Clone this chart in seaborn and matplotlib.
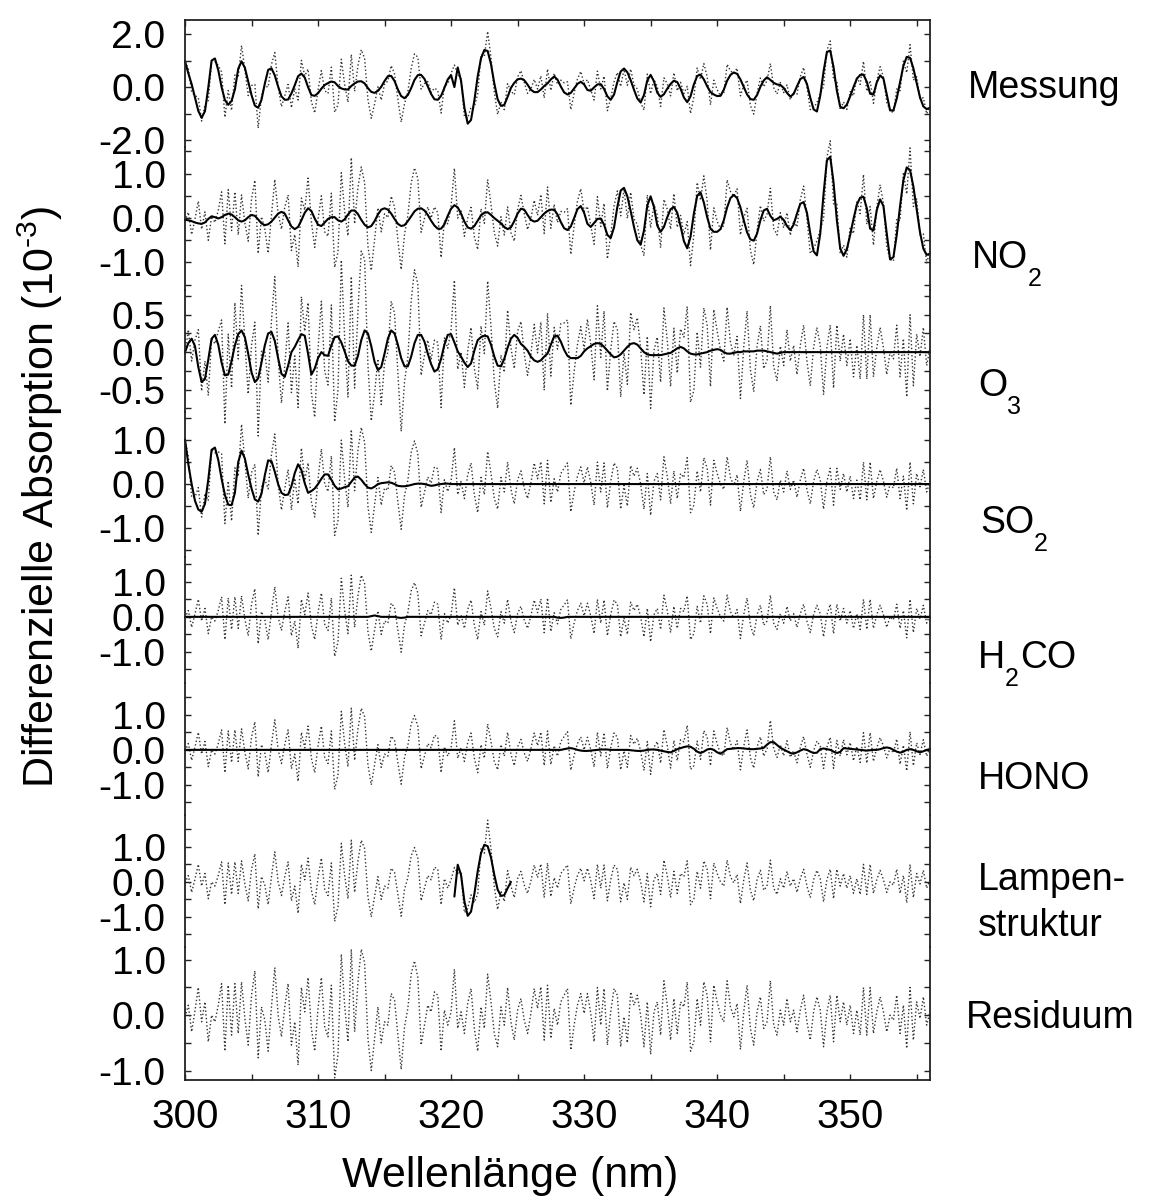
import numpy as np
import matplotlib
matplotlib.use("Agg")
import matplotlib.pyplot as plt
import seaborn as sns
from matplotlib.ticker import MultipleLocator, FixedLocator

# ---------------- data (units of 1e-3, wavelength grid 0.25 nm) ----------------
wavelength = np.linspace(300.0, 356.0, 225)

no2 = [
    -0.04, -0.05, -0.07, -0.10, -0.12, -0.13, -0.10, -0.02, 0.04, 0.02, -0.01, 0.02, 0.07, 0.10, 0.08, 0.02, -0.05, -0.08, -0.05, 0.02,
    0.07, 0.05, -0.03, -0.12, -0.16, -0.14, -0.08, 0.01, 0.10, 0.14, 0.10, -0.05, -0.19, -0.25, -0.20, -0.05, 0.12, 0.22, 0.16, -0.01,
    -0.15, -0.18, -0.10, -0.02, 0.02, 0.02, -0.05, -0.08, -0.03, 0.08, 0.17, 0.17, 0.09, -0.04, -0.15, -0.21, -0.18, -0.07, 0.08, 0.19,
    0.22, 0.19, 0.10, -0.02, -0.13, -0.18, -0.16, -0.07, 0.04, 0.15, 0.21, 0.22, 0.17, 0.07, -0.06, -0.17, -0.24, -0.24, -0.14, 0.05,
    0.21, 0.29, 0.24, 0.10, -0.08, -0.21, -0.24, -0.18, -0.06, 0.06, 0.12, 0.13, 0.07, 0.00, -0.06, -0.12, -0.20, -0.25, -0.21, -0.07,
    0.10, 0.21, 0.19, 0.07, -0.04, -0.08, -0.06, 0.02, 0.10, 0.16, 0.19, 0.19, 0.08, -0.09, -0.23, -0.27, -0.19, 0.00, 0.20, 0.27,
    0.12, -0.13, -0.20, -0.11, -0.02, -0.01, -0.15, -0.38, -0.45, -0.21, 0.25, 0.62, 0.68, 0.49, 0.16, -0.20, -0.50, -0.60, -0.28, 0.28,
    0.49, 0.25, -0.17, -0.31, -0.20, 0.02, 0.20, 0.25, 0.12, -0.18, -0.52, -0.68, -0.42, 0.10, 0.50, 0.58, 0.35, 0.02, -0.24, -0.31,
    -0.31, -0.25, -0.05, 0.24, 0.45, 0.52, 0.45, 0.24, -0.05, -0.32, -0.48, -0.51, -0.35, -0.05, 0.17, 0.21, 0.05, -0.05, -0.02, 0.03,
    -0.04, -0.18, -0.27, -0.15, 0.10, 0.32, 0.36, 0.12, -0.35, -0.75, -0.84, -0.35, 0.55, 1.30, 1.38, 0.80, -0.05, -0.68, -0.85, -0.70,
    -0.38, -0.02, 0.30, 0.46, 0.48, 0.22, -0.24, -0.28, 0.18, 0.42, 0.27, -0.35, -0.93, -0.88, -0.38, 0.27, 0.85, 1.14, 1.08, 0.71,
    0.19, -0.32, -0.69, -0.83, -0.80,
]

o3 = [
    0.00, 0.12, 0.18, 0.08, -0.20, -0.40, -0.36, -0.10, 0.18, 0.23, 0.10, -0.14, -0.31, -0.30, -0.12, 0.09, 0.24, 0.29, 0.20, -0.02,
    -0.27, -0.40, -0.35, -0.14, 0.09, 0.25, 0.27, 0.15, -0.08, -0.29, -0.33, -0.18, 0.00, 0.07, 0.16, 0.24, 0.22, -0.02, -0.30, -0.22,
    -0.08, 0.00, -0.04, -0.05, 0.09, 0.20, 0.21, 0.13, 0.01, -0.12, -0.18, -0.18, -0.05, 0.16, 0.29, 0.25, 0.08, -0.13, -0.24, -0.20,
    -0.02, 0.18, 0.29, 0.25, 0.10, -0.08, -0.19, -0.19, -0.06, 0.12, 0.23, 0.23, 0.14, -0.02, -0.16, -0.26, -0.23, -0.09, 0.10, 0.23,
    0.24, 0.13, 0.01, -0.06, -0.14, -0.20, -0.15, 0.02, 0.16, 0.20, 0.22, 0.21, 0.10, -0.06, -0.18, -0.19, -0.09, 0.06, 0.18, 0.23,
    0.19, 0.11, 0.07, 0.02, -0.06, -0.11, -0.13, -0.11, -0.06, -0.02, 0.10, 0.21, 0.22, 0.14, 0.03, -0.05, -0.08, -0.08, -0.08, -0.05,
    0.01, 0.05, 0.08, 0.11, 0.12, 0.11, 0.07, 0.02, -0.03, -0.07, -0.06, -0.03, 0.02, 0.07, 0.11, 0.12, 0.10, 0.05, 0.00, -0.03,
    -0.04, -0.04, -0.04, -0.04, -0.03, -0.02, -0.01, 0.02, 0.05, 0.07, 0.05, 0.01, -0.02, -0.03, -0.03, -0.02, -0.01, 0.00, 0.02, 0.03,
    0.04, 0.03, 0.00, -0.02, -0.02, -0.01, 0.00, 0.00, 0.01, 0.01, 0.01, 0.01, 0.02, 0.02, 0.02, 0.01, 0.00, -0.01, -0.02, -0.01,
] + [0.0] * 45

so2 = [
    1.02, 0.45, 0.00, -0.38, -0.58, -0.63, -0.45, 0.10, 0.78, 0.83, 0.55, 0.12, -0.25, -0.47, -0.48, -0.20, 0.50, 0.76, 0.58, 0.22,
    -0.10, -0.35, -0.40, -0.22, 0.20, 0.54, 0.52, 0.28, 0.00, -0.20, -0.25, -0.24, -0.05, 0.25, 0.45, 0.32, 0.02, -0.20, -0.16, -0.10,
    0.00, 0.12, 0.22, 0.22, 0.10, -0.04, -0.12, -0.10, -0.07, -0.05, 0.05, 0.15, 0.17, 0.10, 0.00, -0.08, -0.10, -0.06, 0.00, 0.02,
    0.03, 0.04, 0.03, 0.00, -0.04, -0.05, -0.05, -0.04, -0.02, 0.00, 0.01, 0.01, 0.00, -0.02, -0.04, -0.03, -0.01, 0.00, 0.01, 0.01,
] + [0.0] * 145

h2co = ([0.0] * 56 + [0.02, 0.04, 0.02] + [0.0] * 5 + [-0.02, -0.03, -0.02]
        + [0.0] * 45 + [-0.02, -0.03, -0.02] + [0.0] * 110)

hono = [0.0] * 114 + [
    0.02, 0.04, 0.05, 0.03, 0.00, -0.02, -0.03, -0.03, -0.02, -0.01, 0.00, 0.01, 0.01, 0.01, 0.00, 0.00, 0.00, 0.00, 0.00, 0.00,
    -0.01, -0.02, -0.03, -0.03, -0.02, 0.00, 0.01, 0.01, 0.00, -0.02, -0.04, -0.06, -0.07, -0.03, 0.02, 0.05, 0.08, 0.10, 0.09, 0.03,
    -0.05, -0.09, -0.05, 0.01, 0.03, 0.00, -0.07, -0.11, -0.05, 0.02, 0.03, 0.04, 0.05, 0.05, 0.04, 0.03, 0.02, 0.02, 0.03, 0.04,
    0.06, 0.15, 0.22, 0.22, 0.14, 0.06, 0.01, -0.04, -0.09, -0.11, -0.07, -0.02, 0.02, 0.00, -0.05, -0.09, -0.08, 0.02, 0.04, 0.02,
    0.00, -0.05, -0.09, -0.06, 0.05, 0.04, 0.03, 0.02, 0.01, 0.00, -0.01, -0.02, -0.01, 0.00, 0.00, 0.02, 0.05, 0.07, 0.05, 0.00,
    -0.05, -0.08, -0.05, 0.00, 0.02, 0.00, -0.04, -0.07, -0.04, 0.00, 0.02,
]

# lamp structure, only fitted between 320.25 and 324.5 nm (grid index 81..98)
lamp_start = 81
lampen = [-0.42, 0.49, 0.20, -0.55, -0.97, -0.85, -0.35, 0.30, 0.82, 1.06,
          1.02, 0.70, 0.20, -0.22, -0.40, -0.38, -0.18, 0.00]

residuum = [
    -0.03, 0.18, -0.30, 0.08, 0.50, -0.12, 0.24, -0.48, 0.00, -0.12, 0.18, 0.57, -0.65, 0.54, -0.36, 0.57, -0.33, 0.60, -0.06, -0.54,
    0.36, 0.80, -0.77, 0.15, -0.09, -0.65, 0.15, 0.86, 0.00, -0.39, 0.15, 0.57, -0.54, -0.12, -0.90, 0.50, 0.06, 0.68, -0.24, -0.65,
    0.12, 0.68, -0.21, -0.39, 0.54, -1.13, -0.71, 1.10, 0.18, -0.48, 1.19, -0.30, 0.60, 1.19, 0.95, -0.42, -1.00, -0.42, 0.15, -0.50,
    -0.12, -0.18, 0.39, 0.27, -0.36, -0.98, -0.21, 0.12, 0.74, 0.98, 0.68, -0.54, -0.18, 0.18, 0.06, 0.42, 0.36, -0.65, 0.09, -0.18,
    0.06, 0.83, -0.24, 0.06, -0.33, 0.21, 0.48, -0.24, -0.65, 0.15, -0.24, 0.74, 0.24, -0.33, -0.57, 0.15, -0.18, 0.50, -0.12, -0.45,
    0.09, 0.30, -0.09, -0.33, 0.03, 0.48, 0.12, 0.51, -0.45, 0.54, -0.42, 0.12, -0.18, 0.24, 0.36, 0.48, -0.63, -0.18, 0.18, 0.39,
    0.03, 0.39, 0.03, -0.48, 0.50, -0.18, 0.48, -0.54, 0.06, 0.48, 0.36, -0.57, -0.03, -0.50, 0.42, 0.18, 0.36, 0.00, -0.57, 0.24,
    -0.71, 0.06, 0.24, -0.36, 0.62, 0.18, -0.45, 0.30, -0.33, 0.24, 0.15, 0.60, -0.65, -0.48, 0.30, -0.18, 0.60, 0.36, -0.48, 0.54,
    0.24, 0.00, -0.12, 0.62, 0.15, -0.03, 0.21, -0.62, 0.06, 0.54, -0.24, -0.54, 0.06, 0.33, -0.24, -0.12, 0.62, -0.18, -0.36, 0.09,
    -0.18, 0.30, -0.12, 0.09, -0.30, 0.09, 0.36, -0.12, -0.45, 0.06, 0.33, 0.09, -0.57, 0.06, 0.36, -0.48, 0.36, -0.12, 0.24, -0.18,
    0.18, -0.33, 0.09, -0.36, 0.50, -0.36, 0.50, -0.33, 0.06, 0.33, 0.06, -0.30, 0.00, -0.09, 0.36, -0.33, 0.18, -0.60, 0.50, -0.45,
    0.24, -0.06, 0.33, -0.18, 0.06,
]

# panel labels: list of (text, is_subscript) pieces per line
labels = [
    [[("Messung", False)]],
    [[("NO", False), ("2", True)]],
    [[("O", False), ("3", True)]],
    [[("SO", False), ("2", True)]],
    [[("H", False), ("2", True), ("CO", False)]],
    [[("HONO", False)]],
    [[("Lampen-", False)], [("struktur", False)]],
    [[("Residuum", False)]],
]
x_ticks = [300, 310, 320, 330, 340, 350]

# ---------------- derived series ----------------
wl = wavelength
res = np.array(residuum)
lamp_full = np.zeros(len(wl))
lamp_full[lamp_start:lamp_start + len(lampen)] = lampen
comps = [np.array(no2), np.array(o3), np.array(so2), np.array(h2co), np.array(hono), lamp_full]
messung_fit = sum(comps)

fits = [messung_fit] + comps[:5] + [np.array(lampen)]
fit_x = [wl] * 6 + [wl[lamp_start:lamp_start + len(lampen)]]
dotted = [messung_fit + res] + [c + res for c in comps] + [res]

# ---------------- style / layout ----------------
sns.set_theme(style="ticks")
plt.rcParams['font.family'] = ['Liberation Sans', 'DejaVu Sans']
plt.rcParams['mathtext.fontset'] = 'custom'
plt.rcParams['mathtext.rm'] = 'Liberation Sans'
plt.rcParams['mathtext.it'] = 'Liberation Sans:italic'
plt.rcParams['mathtext.bf'] = 'Liberation Sans:bold'
for k in ['text.color', 'axes.labelcolor', 'xtick.color', 'ytick.color']:
    plt.rcParams[k] = 'black'

W, H = 1157, 1198
fig = plt.figure(figsize=(W / 100, H / 100), dpi=100)
fig.patch.set_facecolor('white')

L, R = 185, 930
panels = [
    (20, 147, (-2.26, 2.53), [-2, 0, 2], [-1, 1]),
    (147, 290, (-1.62, 1.60), [-1, 0, 1], [-1.5, -0.5, 0.5, 1.5]),
    (290, 412, (-0.80, 0.83), [-0.5, 0, 0.5], [-0.75, -0.25, 0.25, 0.75]),
    (412, 557, (-1.66, 1.64), [-1, 0, 1], [-1.5, -0.5, 0.5, 1.5]),
    (557, 683, (-1.89, 1.71), [-1, 0, 1], [-1.5, -0.5, 0.5, 1.5]),
    (683, 815, (-1.86, 1.91), [-1, 0, 1], [-1.5, -0.5, 0.5, 1.5]),
    (815, 947, (-1.86, 1.91), [-1, 0, 1], [-1.5, -0.5, 0.5, 1.5]),
    (947, 1080, (-1.17, 1.23), [-1, 0, 1], [-0.5, 0.5]),
]
# (x, baseline y of each line) in pixels
label_pos = [(968, [98]), (972, [268]), (978, [396]), (980, [533]), (978, [668]),
             (978, [789]), (978, [890, 936]), (966, [1028])]

TICK_FS = 28
LAB_FS = 27
SUB_FS = 18
SUB_DROP = 18
spine_c = '#222222'

renderer = fig.canvas.get_renderer()


def draw_label(x_px, baselines, lines):
    for yb, pieces in zip(baselines, lines):
        xcur = x_px
        for txt, sub in pieces:
            y = yb + (SUB_DROP if sub else 0)
            t = fig.text(xcur / W, 1 - y / H, txt, fontsize=SUB_FS if sub else LAB_FS,
                         ha='left', va='baseline', color='black')
            bb = t.get_window_extent(renderer=renderer)
            xcur = bb.x1 + (1 if sub else 0)


for i, (top, bot, ylim, major, minor) in enumerate(panels):
    ax = fig.add_axes([L / W, 1 - bot / H, (R - L) / W, (bot - top) / H])
    ax.patch.set_visible(False)
    sns.lineplot(x=wl, y=dotted[i], ax=ax, color='#333333', linewidth=1.0,
                 linestyle=':', sort=False, estimator=None, clip_on=False)
    if i < 7:
        sns.lineplot(x=fit_x[i], y=fits[i], ax=ax, color='black', linewidth=1.5,
                     sort=False, estimator=None, clip_on=False)
    ax.set_xlim(300, 356)
    ax.set_ylim(*ylim)
    ax.set_xlabel('')
    ax.set_ylabel('')
    ax.xaxis.set_major_locator(FixedLocator(x_ticks))
    ax.xaxis.set_minor_locator(MultipleLocator(5))
    ax.yaxis.set_major_locator(FixedLocator(major))
    ax.yaxis.set_minor_locator(FixedLocator(minor))
    ax.set_yticklabels([f"{v:.1f}" for v in major])
    for s in ['left', 'right', 'top', 'bottom']:
        ax.spines[s].set_color(spine_c)
        ax.spines[s].set_linewidth(1.3)
    ax.spines['left'].set_visible(True)
    ax.spines['right'].set_visible(True)
    ax.spines['top'].set_visible(i == 0)
    ax.spines['bottom'].set_visible(i == 7)
    ax.tick_params(axis='y', which='both', direction='in', left=True, right=True,
                   labelleft=True, labelright=False, length=4, width=1, color=spine_c,
                   labelsize=TICK_FS, pad=14)
    ax.tick_params(axis='x', which='both', direction='in', top=(i == 0), bottom=(i == 7),
                   labelbottom=(i == 7), labeltop=False, length=4, width=1, color=spine_c,
                   labelsize=29, pad=13)
    if i == 7:
        ax.set_xticklabels([str(v) for v in x_ticks])
    lx, lys = label_pos[i]
    draw_label(lx, lys, labels[i])

fig.text(40 / W, 1 - 497 / H, "Differenzielle Absorption (10$^{\\text{-}3}$)", rotation=90,
         fontsize=31, ha='center', va='center')
fig.text(510 / W, 1 - 1176 / H, "Wellenlänge (nm)", fontsize=31, ha='center', va='center')

fig.savefig("out.png", dpi=100, facecolor='white')
